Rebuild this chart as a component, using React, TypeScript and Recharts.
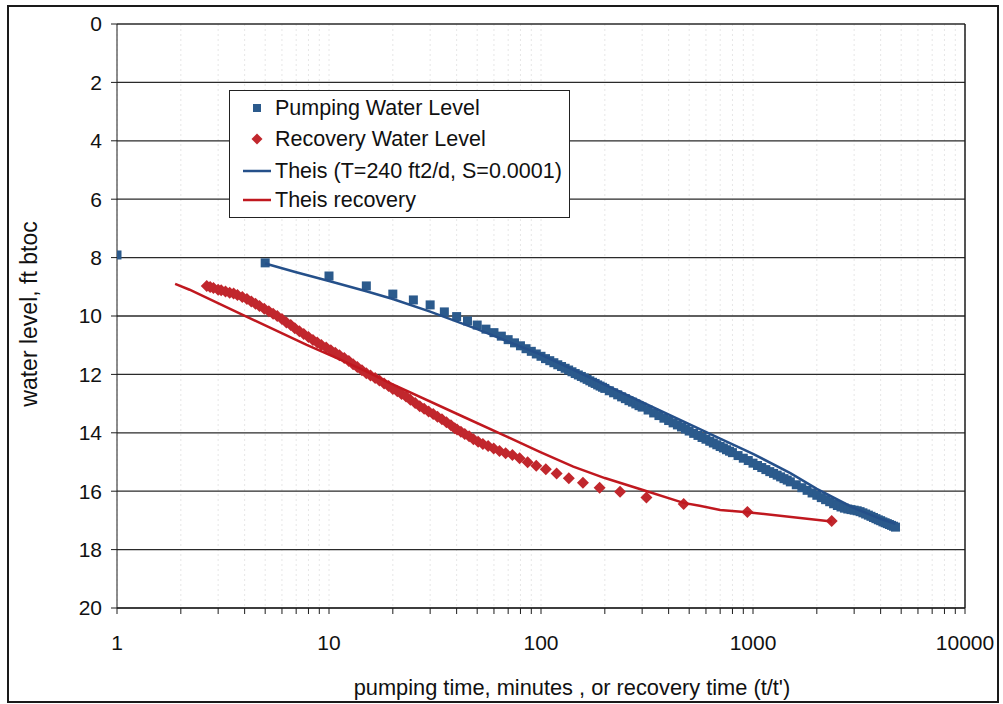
import { ComposedChart, Scatter, XAxis, YAxis, CartesianGrid, ReferenceLine } from 'recharts'

// pumping water level, minutes vs ft btoc
const pumpTime = [
  1, 5, 10, 15, 20, 25, 30, 35, 40, 45, 50, 55, 60, 65,
  70, 75, 80, 85, 90, 95, 100, 105, 110, 115, 120, 125, 130, 135, 140, 145, 150, 155, 160, 165, 170, 175, 180, 185, 190, 195, 200,
  210, 220, 230, 240, 250, 260, 270, 280, 290, 300,
  320, 340, 360, 380, 400, 420, 440, 460, 480, 500,
  525, 550, 575, 600, 625, 650, 675, 700, 725, 750, 775, 800,
  850, 900, 950, 1000, 1050, 1100, 1150, 1200, 1250, 1300, 1350, 1400, 1450, 1500,
  1600, 1700, 1800, 1900, 2000, 2100, 2200, 2300, 2400, 2500, 2600, 2700, 2800, 2900, 3000, 3100,
  3200, 3300, 3400, 3500, 3600, 3700, 3800, 3900, 4000, 4100, 4200, 4300, 4400, 4500, 4600, 4700,
]
const pumpLevel = [
  7.91, 8.18, 8.63, 8.97, 9.25, 9.45, 9.62, 9.86, 10.02, 10.17, 10.31, 10.45, 10.57, 10.69,
  10.81, 10.92, 11.02, 11.12, 11.21, 11.3, 11.38, 11.46, 11.53, 11.6, 11.67, 11.73, 11.79, 11.85, 11.91, 11.97, 12.02, 12.07, 12.12, 12.17, 12.22, 12.27, 12.31, 12.36, 12.4, 12.44, 12.48,
  12.56, 12.63, 12.7, 12.77, 12.83, 12.9, 12.95, 13.01, 13.07, 13.12,
  13.22, 13.32, 13.41, 13.5, 13.58, 13.66, 13.73, 13.8, 13.87, 13.94,
  14.02, 14.09, 14.16, 14.22, 14.29, 14.35, 14.41, 14.47, 14.52, 14.58, 14.63, 14.68,
  14.78, 14.87, 14.95, 15.04, 15.12, 15.19, 15.26, 15.33, 15.39, 15.45, 15.51, 15.57, 15.62, 15.68,
  15.78, 15.88, 15.97, 16.06, 16.14, 16.22, 16.29, 16.36, 16.43, 16.49, 16.54, 16.58, 16.61, 16.63, 16.65, 16.67,
  16.7, 16.74, 16.78, 16.82, 16.86, 16.9, 16.94, 16.98, 17.01, 17.05, 17.08, 17.11, 17.14, 17.17, 17.2, 17.23,
]

// recovery water level, t/t' vs ft btoc
const recRatio = [
  2.65, 2.75, 2.85, 3.0, 3.1, 3.25, 3.4, 3.55, 3.7, 3.9,
  4.1, 4.3, 4.5, 4.7, 4.95, 5.2, 5.45, 5.7, 6.0, 6.3,
  6.6, 6.9, 7.25, 7.6, 8.0, 8.4, 8.8, 9.2, 9.7, 10.2,
  10.7, 11.2, 11.8, 12.4, 13.0, 13.6, 14.3, 15.0, 15.7, 16.5,
  17.3, 18.2, 19.1, 20.0, 21.0, 22.0, 23.1, 24.2, 25.5, 26.8,
  28.1, 29.5, 31.0, 32.5, 34.1, 35.8, 37.6, 39.2, 40.2, 41.9,
  43.7, 45.8, 48.0, 50.5, 53.2, 56.3, 59.8, 63.7, 68.1, 73.3,
  79.3, 86.5, 95.0, 105.4, 118.5, 135.3, 157.7, 189.0, 236.0, 314.3,
  471, 941, 2351,
]
const recLevel = [
  8.97, 9.01, 9.04, 9.1, 9.12, 9.16, 9.2, 9.23, 9.28, 9.35,
  9.42, 9.5, 9.58, 9.66, 9.75, 9.84, 9.92, 10.0, 10.1, 10.22,
  10.31, 10.42, 10.52, 10.62, 10.72, 10.82, 10.91, 10.99, 11.08, 11.17,
  11.26, 11.34, 11.44, 11.54, 11.65, 11.75, 11.86, 11.96, 12.04, 12.12,
  12.21, 12.31, 12.4, 12.5, 12.58, 12.67, 12.76, 12.87, 12.98, 13.09,
  13.18, 13.27, 13.36, 13.45, 13.54, 13.64, 13.74, 13.84, 13.89, 13.96,
  14.04, 14.12, 14.22, 14.31, 14.38, 14.45, 14.54, 14.62, 14.7, 14.76,
  14.87, 15.01, 15.13, 15.25, 15.39, 15.56, 15.71, 15.88, 16.02, 16.22,
  16.44, 16.71, 17.02,
]

// Theis (T=240 ft2/d, S=0.0001)
const theisTime = [5, 7, 10, 15, 20, 30, 50, 70, 100, 150, 200, 300, 500, 700, 1000, 1500, 2000, 3000, 4000, 4700]
const theisLevel = [8.2, 8.5, 8.8, 9.15, 9.42, 9.85, 10.45, 10.88, 11.32, 11.92, 12.35, 12.95, 13.7, 14.2, 14.72, 15.38, 15.92, 16.58, 16.95, 17.12]

// Theis recovery
const theisRecRatio = [1.88, 2.2, 3.94, 7.85, 10.5, 15, 19.4, 43, 69, 98.7, 142, 200, 300, 470, 560, 700, 941, 2351]
const theisRecLevel = [8.9, 9.1, 9.97, 10.99, 11.39, 11.9, 12.3, 13.45, 14.13, 14.65, 15.16, 15.55, 15.95, 16.4, 16.5, 16.64, 16.72, 17.04]

const xMajor = [1, 10, 100, 1000, 10000]
const xTicks = [
  1, 2, 3, 4, 5, 6, 7, 8, 9,
  10, 20, 30, 40, 50, 60, 70, 80, 90,
  100, 200, 300, 400, 500, 600, 700, 800, 900,
  1000, 2000, 3000, 4000, 5000, 6000, 7000, 8000, 9000,
  10000,
]
const yTicks = [0, 2, 4, 6, 8, 10, 12, 14, 16, 18, 20]

const BLUE = '#2b5a8c'
const BLUE_LINE = '#25508a'
const RED = '#c1272d'
const RED_LINE = '#c0181f'
const INK = '#1c1c1c'

const zip = (xs: number[], ys: number[]) => xs.map((x, i) => ({ x, y: ys[i] }))

const pumpData = zip(pumpTime, pumpLevel)
const recData = zip(recRatio, recLevel)
const theisData = zip(theisTime, theisLevel)
const theisRecData = zip(theisRecRatio, theisRecLevel)

const Square = (p: any) => <rect x={p.cx - 4.5} y={p.cy - 4.5} width={9} height={9} fill={BLUE} />
const Diamond = (p: any) => {
  const { cx, cy } = p
  const r = 6
  return <polygon points={`${cx},${cy - r} ${cx + r},${cy} ${cx},${cy + r} ${cx - r},${cy}`} fill={RED} />
}
const NoDot = () => <g />

const legendRows = [
  { label: 'Pumping Water Level', kind: 'square' },
  { label: 'Recovery Water Level', kind: 'diamond' },
  { label: 'Theis (T=240 ft2/d, S=0.0001)', kind: 'blueline' },
  { label: 'Theis recovery', kind: 'redline' },
]

function LegendIcon({ kind }: { kind: string }) {
  return (
    <svg width={32} height={14} style={{ position: 'absolute', left: 11, top: -7 }}>
      {kind === 'square' && <rect x={12} y={3} width={8} height={8} fill={BLUE} />}
      {kind === 'diamond' && <polygon points="16,1.5 21.5,7 16,12.5 10.5,7" fill={RED} />}
      {kind === 'blueline' && <line x1={2} x2={30} y1={7} y2={7} stroke={BLUE_LINE} strokeWidth={2.5} />}
      {kind === 'redline' && <line x1={2} x2={30} y1={7} y2={7} stroke={RED_LINE} strokeWidth={2.5} />}
    </svg>
  )
}

export default function App() {
  const rowTops = [16.5, 47.5, 79.5, 109.3]
  return (
    <div
      style={{
        position: 'absolute',
        left: 0,
        top: 0,
        width: 1003,
        height: 704,
        background: '#fff',
        fontFamily: '"Liberation Sans", Arial, sans-serif',
        color: '#111',
      }}
    >
      <ComposedChart width={1003} height={704} margin={{ top: 24, right: 38, left: 0, bottom: 0 }}>
        <CartesianGrid horizontal={false} stroke="#e6e6e6" strokeDasharray="2 3" />
        <CartesianGrid vertical={false} stroke="#2a2a2a" strokeWidth={1.3} />
        <XAxis
          dataKey="x"
          type="number"
          scale="log"
          domain={[1, 10000]}
          ticks={xTicks}
          allowDataOverflow
          height={96}
          tickSize={6}
          tickMargin={21}
          tickFormatter={(v: number) => (xMajor.includes(v) ? String(v) : '')}
          tick={{ fontSize: 21, fill: '#111' }}
          stroke={INK}
          interval={0}
        />
        <YAxis
          dataKey="y"
          type="number"
          domain={[0, 20]}
          reversed
          ticks={yTicks}
          width={117}
          tickSize={6}
          tickMargin={9}
          tick={{ fontSize: 21, fill: '#111' }}
          stroke={INK}
          interval={0}
        />
        <ReferenceLine x={10000} stroke={INK} strokeWidth={1.5} />
        <Scatter name="Pumping Water Level" data={pumpData} shape={Square} isAnimationActive={false} />
        <Scatter name="Recovery Water Level" data={recData} shape={Diamond} isAnimationActive={false} />
        <Scatter
          name="Theis (T=240 ft2/d, S=0.0001)"
          data={theisData}
          shape={NoDot}
          line={{ stroke: BLUE_LINE, strokeWidth: 2.5 }}
          isAnimationActive={false}
        />
        <Scatter
          name="Theis recovery"
          data={theisRecData}
          shape={NoDot}
          line={{ stroke: RED_LINE, strokeWidth: 2.5 }}
          isAnimationActive={false}
        />
      </ComposedChart>

      {/* legend box */}
      <div
        style={{
          position: 'absolute',
          left: 229,
          top: 90,
          width: 341,
          height: 128,
          boxSizing: 'border-box',
          border: '1.5px solid #222',
          background: '#fff',
        }}
      >
        {legendRows.map((r, i) => (
          <div key={r.label} style={{ position: 'absolute', left: 0, top: rowTops[i] }}>
            <LegendIcon kind={r.kind} />
            <span
              style={{
                position: 'absolute',
                left: 45,
                top: -12,
                fontSize: 21.5,
                lineHeight: '24px',
                whiteSpace: 'nowrap',
              }}
            >
              {r.label}
            </span>
          </div>
        ))}
      </div>

      {/* axis titles */}
      <div
        style={{
          position: 'absolute',
          left: 572,
          top: 676,
          transform: 'translateX(-50%)',
          fontSize: 21.8,
          lineHeight: '24px',
          whiteSpace: 'nowrap',
        }}
      >
        pumping time, minutes , or recovery time (t/t')
      </div>
      <div
        style={{
          position: 'absolute',
          left: 29,
          top: 314,
          transform: 'translate(-50%, -50%) rotate(-90deg)',
          fontSize: 23,
          lineHeight: '26px',
          whiteSpace: 'nowrap',
        }}
      >
        water level, ft btoc
      </div>

      {/* outer frame */}
      <div
        style={{
          position: 'absolute',
          left: 7,
          top: 5,
          width: 992,
          height: 698,
          boxSizing: 'border-box',
          border: '2px solid #1a1a1a',
          pointerEvents: 'none',
        }}
      />
    </div>
  )
}
